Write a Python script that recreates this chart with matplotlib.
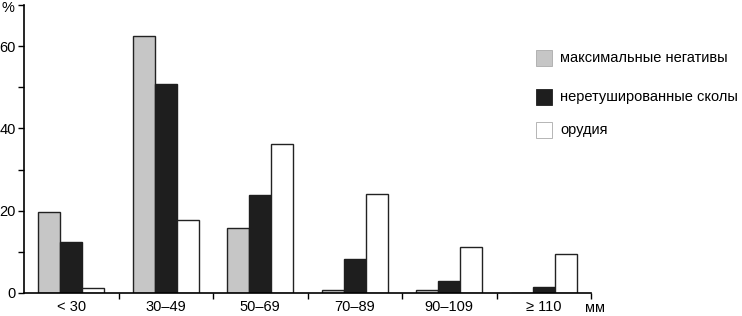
import numpy as np
import matplotlib.pyplot as plt

plt.rcParams['font.family'] = ['Liberation Sans', 'DejaVu Sans']

categories = ["< 30", "30–49", "50–69", "70–89", "90–109", "≥ 110"]
negativy = [19.7, 62.4, 15.7, 0.8, 0.8, 0]
skoly = [12.5, 50.8, 23.8, 8.2, 3.0, 1.5]
orudiya = [1.1, 17.7, 36.1, 24.1, 11.2, 9.6]
labels = ["максимальные негативы", "неретушированные сколы", "орудия"]

W, H = 742, 316
fs = 10.5
fig = plt.figure(figsize=(W / 100, H / 100), dpi=100)
ax = fig.add_axes([24 / W, 23 / H, 567 / W, 288 / H])

x = np.arange(len(categories)) + 0.5
w = 0.233
ax.bar(x - w, negativy, w, color="#c6c6c6", edgecolor="#222222", linewidth=1)
ax.bar(x, skoly, w, color="#1e1e1e", edgecolor="#1e1e1e", linewidth=1)
ax.bar(x + w, orudiya, w, color="white", edgecolor="#222222", linewidth=1)

ax.set_xlim(0, 6)
ax.set_ylim(0, 70)
for s in ["top", "right"]:
    ax.spines[s].set_visible(False)
for s in ["left", "bottom"]:
    ax.spines[s].set_linewidth(1.2)

ax.set_yticks([0, 20, 40, 60])
ax.set_yticks([10, 30, 50, 70], minor=True)
ax.tick_params(axis="y", which="both", length=4, width=1, labelsize=fs, pad=2)

ax.set_xticks(x)
ax.set_xticklabels(categories)
ax.set_xticks(np.arange(1, 7), minor=True)
ax.tick_params(axis="x", which="major", length=0, labelsize=fs, pad=5)
ax.tick_params(axis="x", which="minor", length=4, width=1)

fig.text(2 / W, 1 - 8 / H, "%", fontsize=fs, va="center")
fig.text(585 / W, 1 - 308 / H, "мм", fontsize=fs, va="center")

colors = ["#c6c6c6", "#1e1e1e", "white"]
ys = [58, 97, 130]
for c, lab, yy in zip(colors, labels, ys):
    fig.patches.append(plt.Rectangle((536 / W, 1 - (yy + 8) / H), 16 / W, 16 / H,
                                     transform=fig.transFigure, facecolor=c,
                                     edgecolor="#aaaaaa" if c != "#1e1e1e" else "#1e1e1e",
                                     linewidth=0.6))
    fig.text(560 / W, 1 - yy / H, lab, fontsize=fs, va="center")

plt.savefig("out.png", dpi=100)
